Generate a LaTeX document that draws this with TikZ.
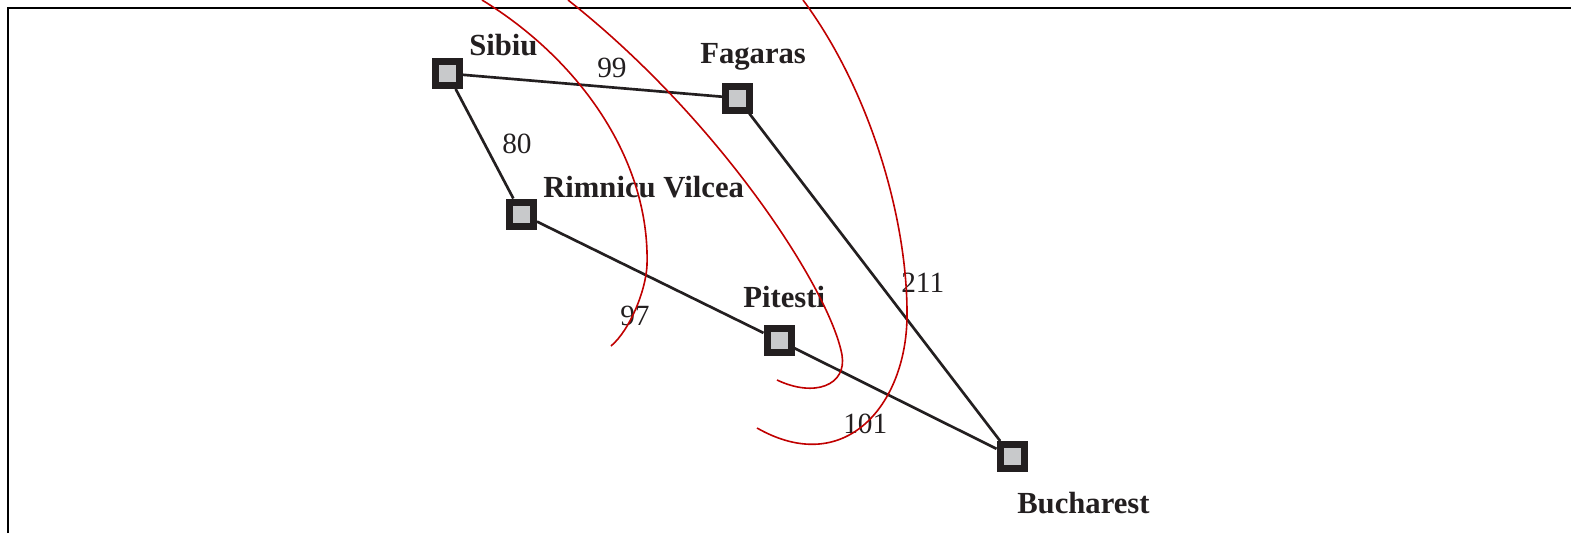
\documentclass[tikz,border=0pt]{standalone}
\usepackage{fontspec}
\setmainfont{Liberation Serif}

\definecolor{roadcol}{RGB}{35,31,32}
\definecolor{cityfill}{RGB}{200,201,203}
\definecolor{contourcol}{RGB}{192,0,0}

\begin{document}
\begin{tikzpicture}[x=0.75pt,y=0.75pt,yscale=-1,xscale=1,
  city/.style={rectangle,draw=roadcol,fill=cityfill,line width=5.25pt,minimum size=18pt,inner sep=0pt},
  cityname/.style={font=\fontsize{23}{27}\selectfont\bfseries,text=roadcol,anchor=base west,inner sep=0pt},
  dist/.style={font=\fontsize{22}{26}\selectfont,text=roadcol,anchor=base west,inner sep=0pt},
  road/.style={draw=roadcol,line width=2pt},
  contour/.style={draw=contourcol,line width=1.2pt}]
\useasboundingbox (0,0) rectangle (1571,533);

%Frame
\draw [line width=1.6pt] (8,533) -- (8,8) -- (1571,8) ;

%Shape: Cities
\node [city] (sibiu) at (447.5,73.5) {};
\node [city] (fagaras) at (737.5,98) {};
\node [city] (rimnicu) at (521.5,214) {};
\node [city] (pitesti) at (779,340.5) {};
\node [city] (bucharest) at (1012,456.5) {};

%Straight Lines: Roads
\draw [road] (sibiu) -- (fagaras) ;
\draw [road] (sibiu) -- (rimnicu) ;
\draw [road] (rimnicu) -- (pitesti) ;
\draw [road] (pitesti) -- (bucharest) ;
\draw [road] (fagaras) -- (bucharest) ;

% Text Node
\node [cityname] (sibiuname) at (469,55) {Sibiu};
% Text Node
\node [cityname] (fagarasname) at (700,63) {Fagaras};
% Text Node
\node [cityname] (rimnicuname) at (543,197) {Rimnicu Vilcea};
% Text Node
\node [cityname] (pitestiname) at (743,307) {Pitesti};
% Text Node
\node [cityname] (bucharestname) at (1017,513) {Bucharest};

% Text Node
\node [dist] (d99) at (597,77) {99};
% Text Node
\node [dist] (d80) at (502,153) {80};
% Text Node
\node [dist] (d97) at (620,325) {97};
% Text Node
\node [dist] (d211) at (901,292) {211};
% Text Node
\node [dist] (d101) at (843,433) {101};

%Curve Lines: Contours
\draw [contour] (482,0) .. controls (580,60) and (650,160) .. (647,265) .. controls (646,290) and (630,330) .. (611,346) ;
\draw [contour] (568,0) .. controls (720,120) and (830,290) .. (842,355) .. controls (847,385) and (815,398) .. (777,380) ;
\draw [contour] (803,0) .. controls (870,90) and (908,220) .. (907,317) .. controls (906,405) and (845,478) .. (757,428) ;

\end{tikzpicture}
\end{document}
